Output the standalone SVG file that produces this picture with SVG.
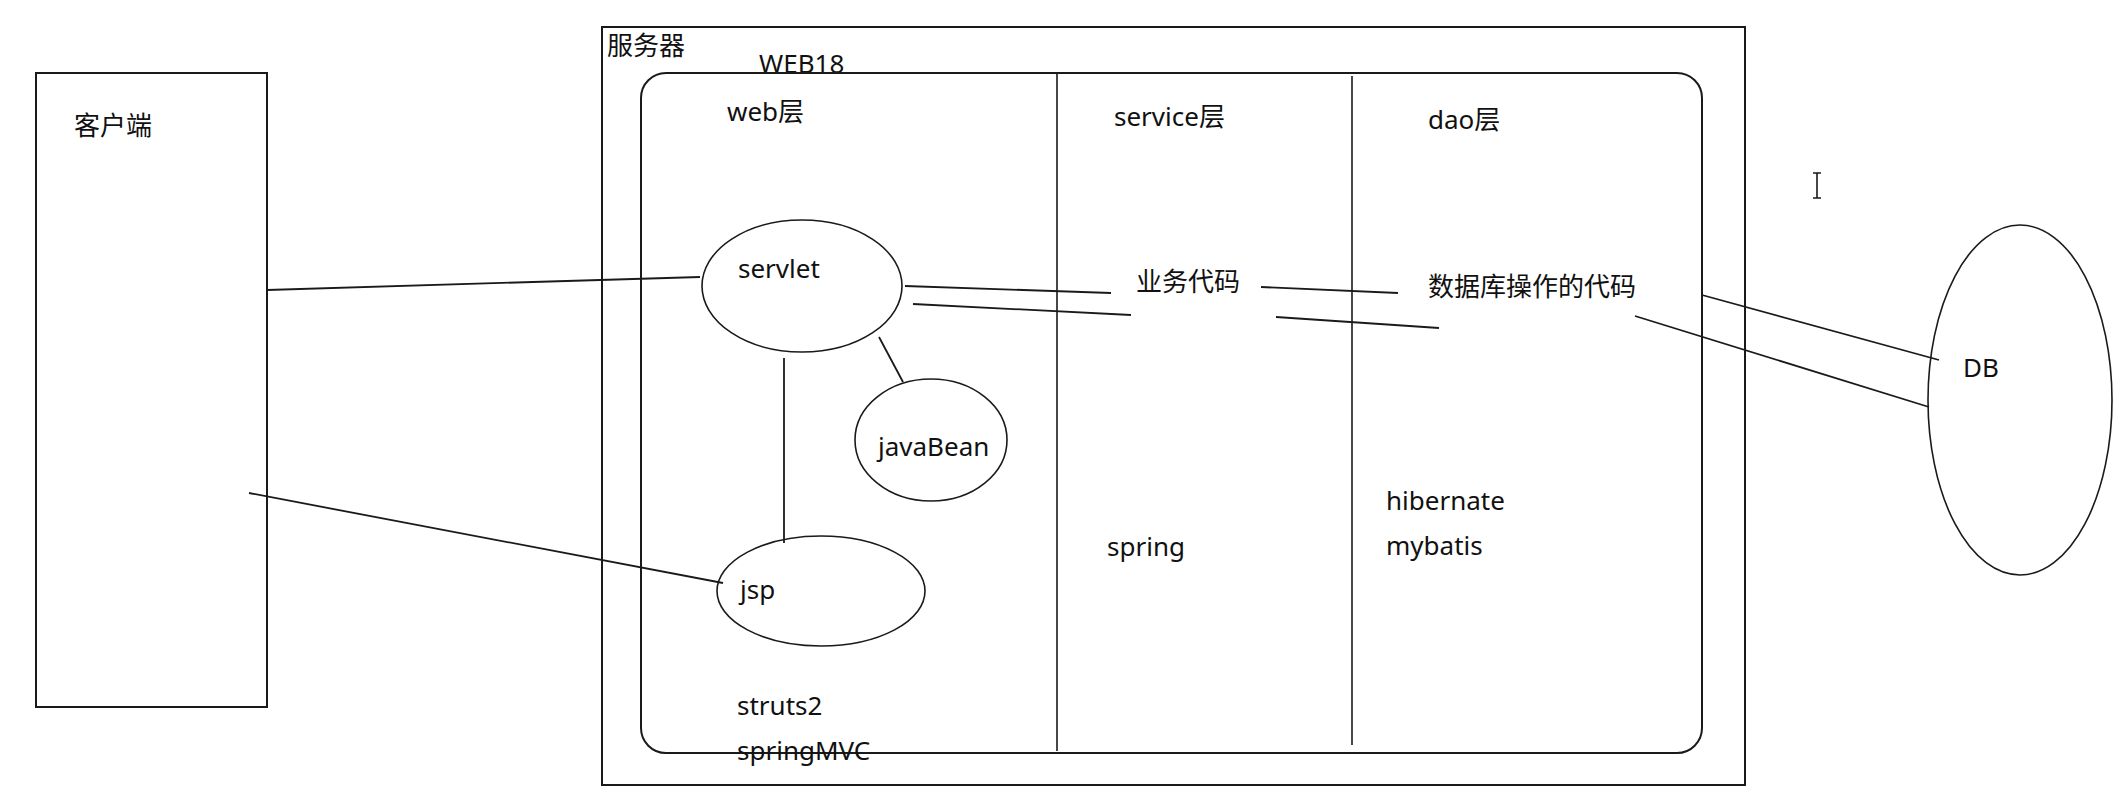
<svg xmlns="http://www.w3.org/2000/svg" width="2120" height="796" viewBox="0 0 2120 796">
<style>
.box{fill:none;stroke:#1a1a1a;stroke-width:2}
.shape{fill:none;stroke:#1a1a1a;stroke-width:1.6}
.ln{fill:none;stroke:#1a1a1a;stroke-width:1.8}
text{font-family:"Noto Sans","Noto Sans CJK SC",sans-serif;font-size:26px;fill:#111}
</style>
<rect width="2120" height="796" fill="#fff"/>
<g id="client">
<rect class="box" x="36" y="73" width="231" height="634"/>
<text x="74" y="135">客户端</text>
</g>
<g id="server">
<rect class="box" x="602" y="27" width="1143" height="758"/>
<text x="607" y="55">服务器</text>
</g>
<g id="web18">
<text x="759" y="73">WEB18</text>
<rect class="box" x="641" y="73" width="1061" height="680" rx="25" ry="25"/>
<line class="shape" x1="1057" y1="74" x2="1057" y2="751"/>
<line class="shape" x1="1352" y1="76" x2="1352" y2="745"/>
</g>
<g id="web-layer">
<text x="727" y="121">web层</text>
<text x="737" y="715">struts2</text>
<text x="737" y="760">springMVC</text>
</g>
<g id="service-layer">
<text x="1114" y="126">service层</text>
<text x="1136" y="291">业务代码</text>
<text x="1107" y="556">spring</text>
</g>
<g id="dao-layer">
<text x="1428" y="129">dao层</text>
<text x="1428" y="296">数据库操作的代码</text>
<text x="1386" y="510">hibernate</text>
<text x="1386" y="555">mybatis</text>
</g>
<g id="servlet">
<ellipse class="shape" cx="802" cy="286" rx="100" ry="66"/>
<text x="738" y="278">servlet</text>
</g>
<g id="javaBean">
<ellipse class="shape" cx="931" cy="440" rx="76" ry="61"/>
<text x="878" y="456">javaBean</text>
</g>
<g id="jsp">
<ellipse class="shape" cx="821" cy="591" rx="104" ry="55"/>
<text x="740" y="599">jsp</text>
</g>
<g id="db">
<ellipse class="shape" cx="2020" cy="400" rx="92" ry="175"/>
<text x="1963" y="377">DB</text>
</g>
<g id="cursor">
<path class="shape" d="M1817 173 V198 M1813 173 H1821 M1813 198 H1821" stroke-width="1.4"/>
</g>
<g id="connectors">
<line class="ln" x1="267" y1="290" x2="700" y2="277"/>
<line class="ln" x1="249" y1="493" x2="723" y2="583"/>
<line class="ln" x1="784" y1="358" x2="784" y2="543"/>
<line class="ln" x1="879" y1="337" x2="903" y2="382"/>
<line class="ln" x1="905" y1="286" x2="1111" y2="293"/>
<line class="ln" x1="1261" y1="287" x2="1398" y2="293"/>
<line class="ln" x1="913" y1="304" x2="1131" y2="315"/>
<line class="ln" x1="1276" y1="317" x2="1439" y2="328"/>
<line class="ln" x1="1702" y1="295" x2="1939" y2="360"/>
<line class="ln" x1="1635" y1="316" x2="1929" y2="407"/>
</g>
</svg>
